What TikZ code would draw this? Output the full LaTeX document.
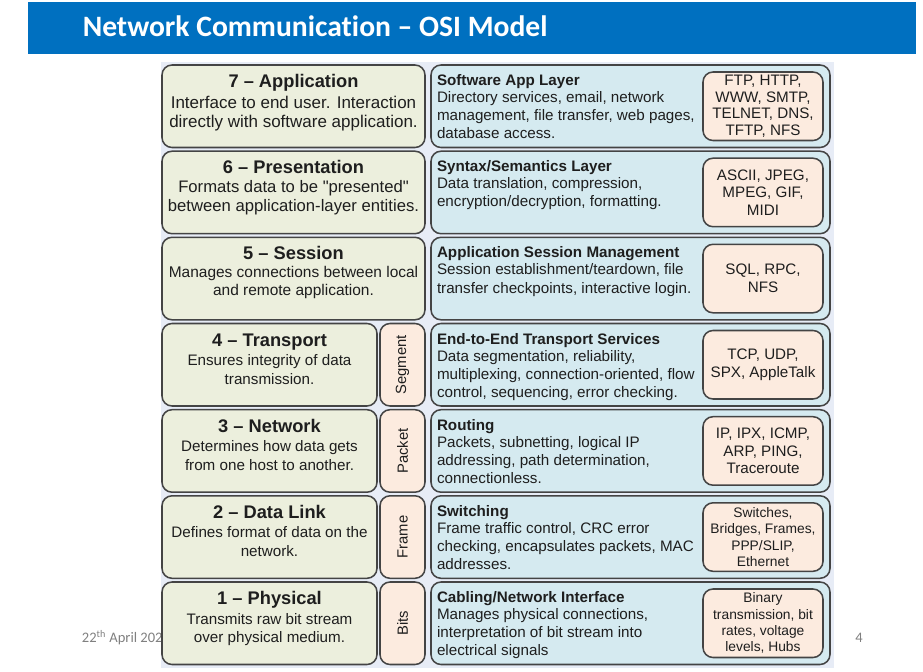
\documentclass[tikz,border=0pt]{standalone}
\usepackage{fontspec}
\setmainfont{Liberation Sans}
\newfontfamily\slidefont[Ligatures=NoCommon]{Carlito}

\definecolor{barblue}{HTML}{0070C0}
\definecolor{panelbg}{HTML}{E7ECF6}
\definecolor{layerfill}{HTML}{ECEFDD}
\definecolor{servfill}{HTML}{D5EAF0}
\definecolor{protofill}{HTML}{FCEBDF}
\definecolor{edgegray}{HTML}{444444}
\definecolor{inkgray}{HTML}{1E1E1E}
\definecolor{footgray}{HTML}{808080}

% font size in pt with baseline skip
\newcommand\fs[2]{\fontsize{#1pt}{#2pt}\selectfont}

\tikzset{
  roundbox/.style={draw=edgegray, line width=1.15pt, rounded corners=7.5pt,
                   inner sep=0pt, outer sep=0pt, anchor=north west},
  layerbox/.style={roundbox, fill=layerfill, minimum height=82.5*0.75pt},
  pdubox/.style={roundbox, fill=protofill, minimum width=45*0.75pt, minimum height=82.5*0.75pt},
  servbox/.style={roundbox, fill=servfill, minimum width=399*0.75pt, minimum height=82.5*0.75pt},
  protobox/.style={roundbox, fill=protofill, minimum width=120*0.75pt, minimum height=68.5*0.75pt},
  basetext/.style={inner sep=0pt, outer sep=0pt, text=inkgray},
  layertitle/.style={basetext, anchor=base, font=\fs{13.7}{16}\bfseries},
  layerline/.style={basetext, anchor=base},
  servhead/.style={basetext, anchor=base west, font=\fs{11.4}{13.65}\bfseries},
  servline/.style={basetext, anchor=base west, font=\fs{11.4}{13.65}},
  prototext/.style={basetext, align=center},
  pdutext/.style={basetext, rotate=90, font=\fs{11.1}{13}},
}

% left layer box: id, top, width, line-1 offset, line-2 offset, body size, title, line 1, line 2
\newcommand\leftlayer[9]{%
  \node[layerbox, minimum width=#3*0.75pt] (L#1) at (162,#2) {};
  \node[layertitle] (L#1t) at ({162+#3/2},{#2+22.5}) {#7};
  \node[layerline, font=\fs{#6}{14}] (L#1a) at ({162+#3/2},{#2+#4}) {#8};
  \node[layerline, font=\fs{#6}{14}] (L#1b) at ({162+#3/2},{#2+#5}) {#9};
}

% data unit tag: id, top, text
\newcommand\pdutag[3]{%
  \node[pdubox] (V#1) at (380,#2) {};
  \node[pdutext] (V#1t) at (V#1.center) {#3};
}

% service box: id, top, header, body lines, protocol font, protocols
\newcommand\servlayer[6]{%
  \node[servbox] (R#1) at (431,#2) {};
  \node[servhead] (R#1h) at (437,{#2+20.5}) {#3};
  \foreach \lntxt [count=\k] in {#4}
    {\node[servline] (R#1b\k) at (437,{#2+37.5+(\k-1)*18.2}) {\lntxt};}
  \node[protobox] (P#1) at (703,{#2+7}) {};
  \node[prototext, font=#5] (P#1t) at (P#1.center) {#6};
}

\begin{document}
\begin{tikzpicture}[x=0.75pt, y=-0.75pt]
\useasboundingbox (0,0) rectangle (923,671);
\fill[white] (0,0) rectangle (923,671);

% heading bar
\node[fill=barblue, inner sep=0pt, outer sep=0pt, anchor=north west,
      minimum width=888.5*0.75pt, minimum height=51.5*0.75pt] (bar) at (27.5,2) {};
\node[anchor=base west, inner sep=0pt, text=white, font=\slidefont\bfseries\fs{22.2}{26}]
  (title) at (82.5,36.7) {Network Communication – OSI Model};

% footer date (partly covered by the diagram panel)
\node[anchor=base west, inner sep=0pt, text=footgray, font=\slidefont\fs{10.9}{13}]
  (date) at (81.7,642.3) {22\textsuperscript{th} April 202};

% diagram panel
\node[fill=panelbg, inner sep=0pt, outer sep=0pt, anchor=north west,
      minimum width=673*0.75pt, minimum height=606*0.75pt] (panel) at (161,62) {};

% layers
\leftlayer{7}{65}{263}{43}{62}{12.75}{7 – Application}
  {Interface to end user. Interaction}{directly with software application.}
\leftlayer{6}{151.2}{263}{41}{60}{12.5}{6 – Presentation}
  {Formats data to be \textquotedbl presented\textquotedbl}{between application-layer entities.}
\leftlayer{5}{237.3}{263}{40}{58}{11.6}{5 – Session}
  {Manages connections between local}{and remote application.}
\leftlayer{4}{323.5}{215}{42}{60.5}{11.4}{4 – Transport}
  {Ensures integrity of data}{transmission.}
\leftlayer{3}{409.7}{215}{42}{60.5}{11.4}{3 – Network}
  {Determines how data gets}{from one host to another.}
\leftlayer{2}{495.8}{215}{42}{60.5}{11.4}{2 – Data Link}
  {Defines format of data on the}{network.}
\leftlayer{1}{582}{215}{42}{60.5}{11.4}{1 – Physical}
  {Transmits raw bit stream}{over physical medium.}

% data units
\pdutag{4}{323.5}{Segment}
\pdutag{3}{409.7}{Packet}
\pdutag{2}{495.8}{Frame}
\pdutag{1}{582}{Bits}

% services and protocols
\servlayer{7}{65}{Software App Layer}
  {{Directory services, email, network},{management, file transfer, web pages,},{database access.}}
  {\fs{11.4}{12.5}}{FTP, HTTP,\\WWW, SMTP,\\TELNET, DNS,\\TFTP, NFS}
\servlayer{6}{151.2}{Syntax/Semantics Layer}
  {{Data translation, compression,},{encryption/decryption, formatting.}}
  {\fs{11.4}{13.2}}{ASCII, JPEG,\\MPEG, GIF,\\MIDI}
\servlayer{5}{237.3}{Application Session Management}
  {{Session establishment/teardown, file},{transfer checkpoints, interactive login.}}
  {\fs{11.4}{13.2}}{SQL, RPC,\\NFS}
\servlayer{4}{323.5}{End-to-End Transport Services}
  {{Data segmentation, reliability,},{multiplexing, connection-oriented, flow},{control, sequencing, error checking.}}
  {\fs{11.4}{13.6}}{TCP, UDP,\\SPX, AppleTalk}
\servlayer{3}{409.7}{Routing}
  {{Packets, subnetting, logical IP},{addressing, path determination,},{connectionless.}}
  {\fs{11.4}{13.1}}{IP, IPX, ICMP,\\ARP, PING,\\Traceroute}
\servlayer{2}{495.8}{Switching}
  {{Frame traffic control, CRC error},{checking, encapsulates packets, MAC},{addresses.}}
  {\fs{10.35}{12.3}}{Switches,\\Bridges, Frames,\\PPP/SLIP,\\Ethernet}
\servlayer{1}{582}{Cabling/Network Interface}
  {{Manages physical connections,},{interpretation of bit stream into},{electrical signals}}
  {\fs{10.35}{12.3}}{Binary\\transmission, bit\\rates, voltage\\levels, Hubs}

% page number
\node[anchor=base west, inner sep=0pt, text=footgray, font=\slidefont\fs{10.9}{13}]
  (page) at (855,642.7) {4};
\end{tikzpicture}
\end{document}
